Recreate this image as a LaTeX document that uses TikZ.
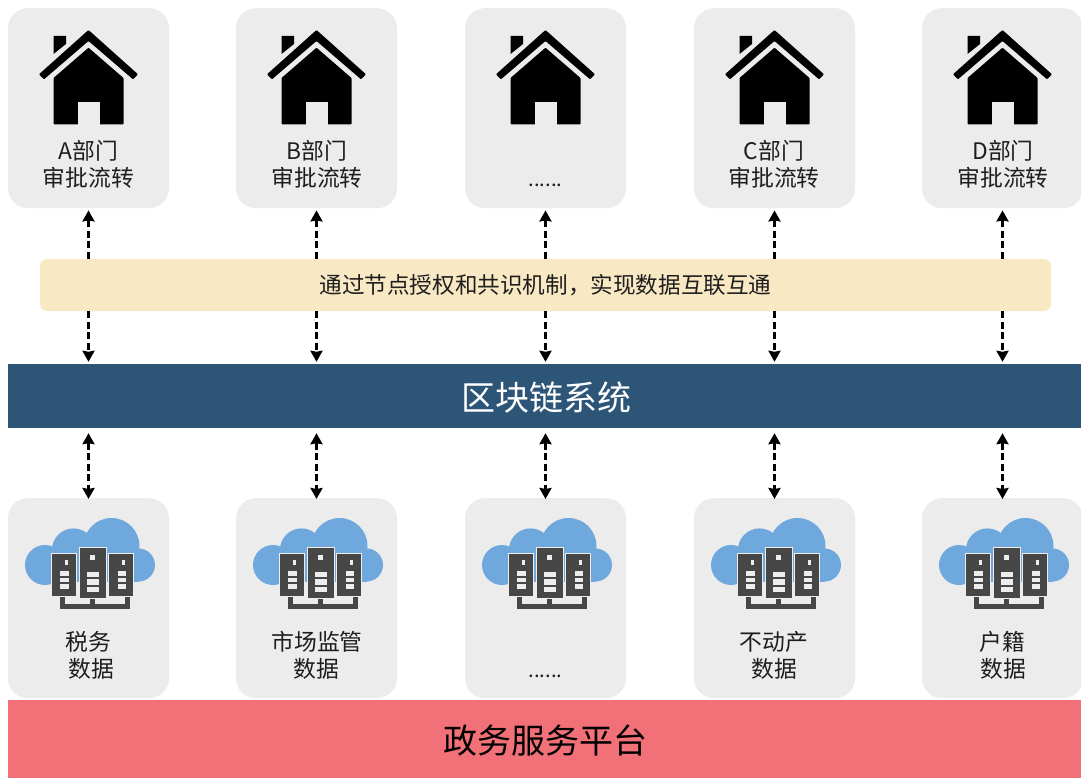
\documentclass[tikz,border=0pt]{standalone}
\usepackage{fontspec}
\setmainfont{Noto Sans CJK SC}
\usetikzlibrary{arrows.meta}
\definecolor{cardgray}{HTML}{ECECEC}
\definecolor{beamyellow}{HTML}{F8E8C4}
\definecolor{chainblue}{HTML}{2C5578}
\definecolor{platred}{HTML}{F27077}
\definecolor{cloudblue}{HTML}{6FA8DC}
\definecolor{serverdark}{HTML}{474747}
\definecolor{inktext}{HTML}{1E1E1E}
\definecolor{serverlight}{HTML}{EDEDED}
\tikzset{
  card/.style={fill=cardgray,rounded corners=20pt,minimum width=161pt,minimum height=200pt,inner sep=0pt,anchor=north},
  cardtext/.style={text=inktext,font=\fontsize{22.8}{27}\selectfont,inner sep=0pt,anchor=center},
  dotstext/.style={text=inktext,font=\fontsize{20.3}{27}\selectfont,inner sep=0pt,anchor=center},
  link/.style={black,line width=2.7pt,dash pattern=on 7pt off 3.5pt},
  linkone/.style={link,-{Stealth[length=11pt,width=12pt,inset=1pt]}},
  linktwo/.style={link,{Stealth[length=11pt,width=12pt,inset=1pt]}-{Stealth[length=11pt,width=12pt,inset=1pt]}},
  rack/.style={fill=serverdark,draw=serverlight,line width=0.9pt},
  house/.pic={
    \fill[black,rounded corners=0.8pt] (-49.5,44.3) -- (0,0) -- (49.5,44.3) -- (44.5,49.3) -- (0,11) -- (-44.5,49.3) -- cycle;
    \fill[black] (-35,6) -- (-22.5,6) -- (-22.5,14) -- (-35,24) -- cycle;
    \fill[black,rounded corners=0.8pt] (0,17.7) -- (35,48) -- (35,94.3) -- (-35,94.3) -- (-35,48) -- cycle;
    \fill[cardgray] (-11,72.3) rectangle (11,94.8);
  },
  cloudserver/.pic={
    \fill[cloudblue] (-43.5,0) circle (20);
    \fill[cloudblue] (-15,-15) circle (21.6);
    \fill[cloudblue] (23,-19) circle (28);
    \fill[cloudblue] (50,0) circle (16.5);
    \fill[cloudblue] (-43.5,-8) rectangle (50,17);
    \draw[serverlight,line width=6.8pt,line join=miter] (-26,33) -- (-26,41.3) -- (39,41.3) -- (39,33) (4,33) -- (4,41.3);
    \draw[serverdark,line width=5pt,line join=miter] (-26,30) -- (-26,41.3) -- (39,41.3) -- (39,30) (4,30) -- (4,41.3);
    \filldraw[rack] (-37,-12) rectangle (-12,31);
    \filldraw[rack] (20,-12) rectangle (45,31);
    \filldraw[rack] (-9.5,-18) rectangle (17.5,33);
    \fill[serverlight] (1.5,-10) rectangle (6.5,-5);
    \fill[serverlight] (-23.5,-5) rectangle (-20.5,0);
    \fill[serverlight] (33.5,-5) rectangle (36.5,0);
    \foreach \xa/\xb in {-28.5/-19.5,29/37.5}{
      \fill[serverlight] (\xa,5.7) rectangle (\xb,10.7);
      \fill[serverlight] (\xa,12.7) rectangle (\xb,16.7);
      \fill[serverlight] (\xa,19) rectangle (\xb,24.3);
    }
    \fill[serverlight] (-2,7.3) rectangle (10,12.3);
    \fill[serverlight] (-2,14.3) rectangle (10,20);
    \fill[serverlight] (-2,22.3) rectangle (10,26.7);
  }
}
\begin{document}
\begin{tikzpicture}[x=1pt,y=-1pt]
\useasboundingbox (0,0) rectangle (1081,778);
\clip (0,0) rectangle (1081,778);
\fill[white] (0,0) rectangle (1081,778);
% bands
\node[fill=beamyellow,rounded corners=7pt,minimum width=1011pt,minimum height=52pt,inner sep=0pt,text=inktext,font=\fontsize{22.6}{26}\selectfont] (beam) at (545.5,285) {通过节点授权和共识机制\symbol{"FF0C}实现数据互联互通};
\node[fill=chainblue,minimum width=1073pt,minimum height=64pt,inner sep=0pt] (chain) at (544.5,396) {};
\node[text=white,font=\fontsize{34}{40}\selectfont,inner sep=0pt] (chaintext) at (546,397.5) {区块链系统};
\node[fill=platred,minimum width=1073pt,minimum height=78pt,inner sep=0pt] (plat) at (544.5,739) {};
\node[text=black,font=\fontsize{34}{40}\selectfont,inner sep=0pt] (plattext) at (545,741) {政务服务平台};
% top cards
\node[card] (ta) at (88.5,8) {};
\node[card] (tb) at (316.5,8) {};
\node[card] (tc) at (545.5,8) {};
\node[card] (td) at (774.5,8) {};
\node[card] (te) at (1002.5,8) {};
% bottom cards
\node[card] (ba) at (88.5,498) {};
\node[card] (bb) at (316.5,498) {};
\node[card] (bc) at (545.5,498) {};
\node[card] (bd) at (774.5,498) {};
\node[card] (be) at (1002.5,498) {};
\foreach \n in {ta,tb,tc,td,te}{
  \path (\n.north) ++(0,22) pic {house};
}
\foreach \n in {ba,bb,bc,bd,be}{
  \path (\n.north) ++(0,67) pic {cloudserver};
}
% labels
\node[cardtext] (lta1) at (88.5,151) {A部门};
\node[cardtext] (lta2) at (88.5,178) {审批流转};
\node[cardtext] (ltb1) at (317,151) {B部门};
\node[cardtext] (ltb2) at (317,178) {审批流转};
\node[dotstext] (ltc) at (545.5,185) {......};
\node[cardtext] (ltd1) at (774,151) {C部门};
\node[cardtext] (ltd2) at (774,178) {审批流转};
\node[cardtext] (lte1) at (1003,151) {D部门};
\node[cardtext] (lte2) at (1003,178) {审批流转};
\node[cardtext] (lba1) at (88.5,642) {税务};
\node[cardtext] (lba2) at (91.5,669) {数据};
\node[cardtext] (lbb1) at (317,642) {市场监管};
\node[cardtext] (lbb2) at (316.5,669) {数据};
\node[dotstext] (lbc) at (545.5,676) {......};
\node[cardtext] (lbd1) at (774,642) {不动产};
\node[cardtext] (lbd2) at (774.5,669) {数据};
\node[cardtext] (lbe1) at (1002.5,642) {户籍};
\node[cardtext] (lbe2) at (1003.5,669) {数据};
% connectors
\foreach \t/\b in {ta/ba,tb/bb,tc/bc,td/bd,te/be}{
  \draw[linkone] (\t.south |- beam.north) -- ([yshift=-2pt]\t.south);
  \draw[linkone] (\t.south |- beam.south) -- ([yshift=2pt]\t.south |- chain.north);
  \draw[linktwo] ([yshift=-5pt]\b.north |- chain.south) -- ([yshift=-1pt]\b.north);
}
\end{tikzpicture}
\end{document}
